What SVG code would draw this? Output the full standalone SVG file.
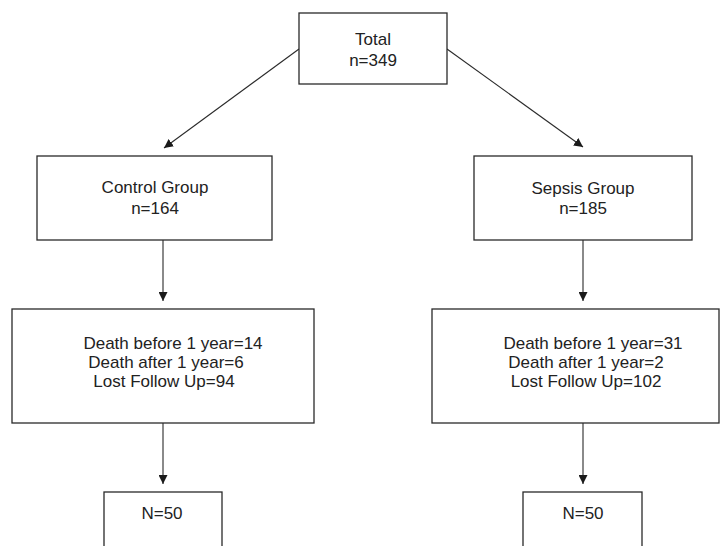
<svg xmlns="http://www.w3.org/2000/svg" width="721" height="546" viewBox="0 0 721 546">
<style>
.box{fill:#fff;stroke:#2a2a2a;stroke-width:1.3}
.t{font-family:"Liberation Sans",Arial,sans-serif;font-size:17px;fill:#222;text-anchor:middle}
.c{stroke:#2a2a2a;stroke-width:1.1;fill:none}
</style>
<defs>
<marker id="ah" viewBox="0 0 10 10" refX="10" refY="5" markerWidth="9" markerHeight="9" markerUnits="userSpaceOnUse" orient="auto">
<path d="M0,0 L10,5 L0,10 z" fill="#1a1a1a"/>
</marker>
</defs>
<rect width="721" height="546" fill="#fff"/>
<g id="connectors">
<line class="c" x1="299" y1="49" x2="164" y2="148" marker-end="url(#ah)"/>
<line class="c" x1="447" y1="49" x2="583" y2="147" marker-end="url(#ah)"/>
<line class="c" x1="163" y1="240" x2="163" y2="301" marker-end="url(#ah)"/>
<line class="c" x1="583" y1="240" x2="583" y2="301" marker-end="url(#ah)"/>
<line class="c" x1="163" y1="423" x2="163" y2="484" marker-end="url(#ah)"/>
<line class="c" x1="583" y1="423" x2="583" y2="484" marker-end="url(#ah)"/>
</g>
<g id="total">
<rect class="box" x="299" y="13" width="148" height="71"/>
<text class="t" x="373" y="45">Total</text>
<text class="t" x="373" y="66">n=349</text>
</g>
<g id="control">
<rect class="box" x="37" y="156" width="235" height="84"/>
<text class="t" x="155" y="193">Control Group</text>
<text class="t" x="155" y="214">n=164</text>
</g>
<g id="sepsis">
<rect class="box" x="474" y="156" width="218" height="84"/>
<text class="t" x="583" y="194">Sepsis Group</text>
<text class="t" x="583" y="214">n=185</text>
</g>
<g id="control-outcome">
<rect class="box" x="12" y="309" width="302" height="114"/>
<text class="t" x="173" y="349">Death before 1 year=14</text>
<text class="t" x="166" y="368">Death after 1 year=6</text>
<text class="t" x="164" y="387">Lost Follow Up=94</text>
</g>
<g id="sepsis-outcome">
<rect class="box" x="432" y="309" width="287" height="114"/>
<text class="t" x="593" y="349">Death before 1 year=31</text>
<text class="t" x="586" y="368">Death after 1 year=2</text>
<text class="t" x="586" y="387">Lost Follow Up=102</text>
</g>
<g id="control-final">
<rect class="box" x="104" y="492" width="118" height="80"/>
<text class="t" x="162" y="519">N=50</text>
</g>
<g id="sepsis-final">
<rect class="box" x="523" y="492" width="119" height="80"/>
<text class="t" x="583" y="519">N=50</text>
</g>
</svg>
